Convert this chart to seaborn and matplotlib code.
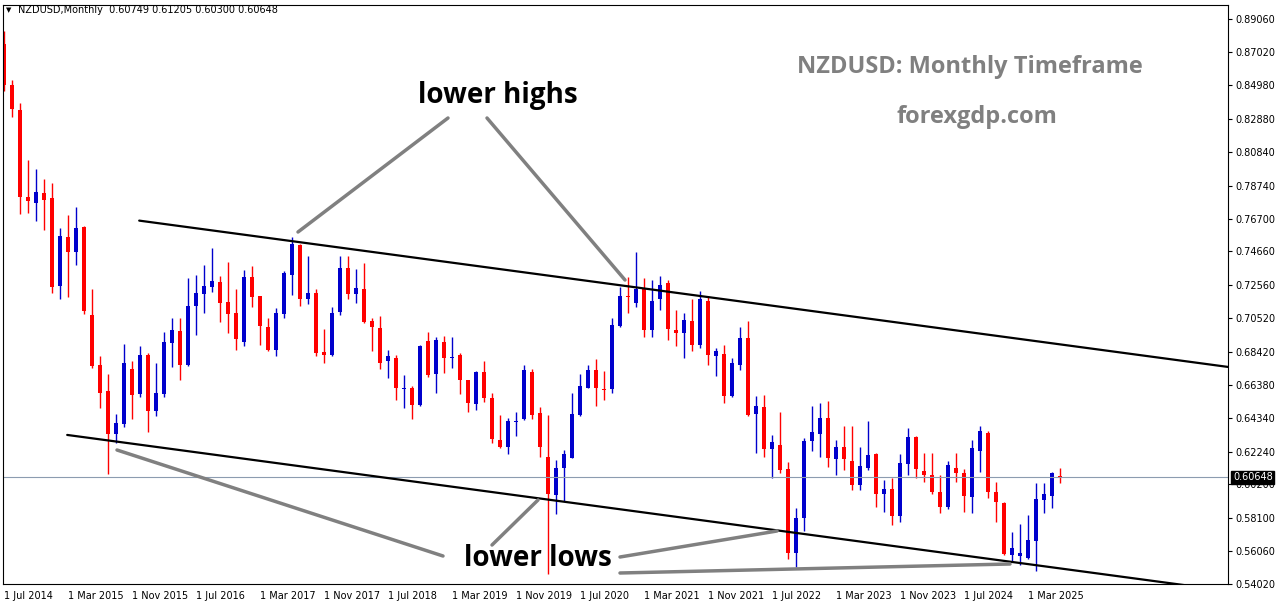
import numpy as np
import pandas as pd
import matplotlib
matplotlib.use("Agg")
import matplotlib.pyplot as plt
import seaborn as sns
from matplotlib.lines import Line2D

sns.set_style("white")
plt.rcParams['font.family'] = ['DejaVu Sans']
plt.rcParams['text.color'] = 'black'
plt.rcParams['xtick.color'] = 'black'
plt.rcParams['ytick.color'] = 'black'

# monthly candles, Jul 2014 .. Jul 2025
opens = [0.8756, 0.8501, 0.8344, 0.7804, 0.7766, 0.7828, 0.7799, 0.7250, 0.7556, 0.7464,
         0.7619, 0.7074, 0.6761, 0.6599, 0.6332, 0.6394, 0.6737, 0.6580, 0.6826, 0.6476,
         0.6580, 0.6900, 0.6973, 0.6761, 0.7127, 0.7202, 0.7243, 0.7274, 0.7149, 0.7081,
         0.6905, 0.7308, 0.7187, 0.6997, 0.6852, 0.7079, 0.7320, 0.7508, 0.7170, 0.7206,
         0.6840, 0.6826, 0.7093, 0.7363, 0.7202, 0.7231, 0.7031, 0.6990, 0.6785, 0.6804,
         0.6609, 0.6616, 0.6512, 0.6912, 0.6708, 0.6905, 0.6804, 0.6821, 0.6669, 0.6520,
         0.6717, 0.6556, 0.6295, 0.6255, 0.6409, 0.6423, 0.6717, 0.6464, 0.6189, 0.5953,
         0.6122, 0.6182, 0.6448, 0.6621, 0.6729, 0.6611, 0.6609, 0.7002, 0.7187, 0.7146,
         0.7231, 0.6977, 0.7170, 0.7267, 0.6977, 0.6958, 0.7035, 0.6888, 0.7158, 0.6814,
         0.6831, 0.6568, 0.6761, 0.6929, 0.6455, 0.6503, 0.6238, 0.6262, 0.6117, 0.5597,
         0.5809, 0.6291, 0.6332, 0.6431, 0.6177, 0.6250, 0.6165, 0.6014, 0.6122, 0.6206,
         0.5961, 0.5994, 0.5821, 0.6146, 0.6315, 0.6105, 0.6081, 0.5970, 0.5881, 0.6122,
         0.6091, 0.5941, 0.6226, 0.6339, 0.5970, 0.5905, 0.5580, 0.5575, 0.5563, 0.5669,
         0.5924, 0.5946, 0.60749]
highs = [0.8833, 0.8532, 0.8387, 0.8031, 0.7975, 0.7913, 0.7889, 0.7611, 0.7693, 0.7744,
         0.7623, 0.7231, 0.6814, 0.6705, 0.6455, 0.6893, 0.6785, 0.6881, 0.6833, 0.6773,
         0.6966, 0.7055, 0.7050, 0.7298, 0.7322, 0.7380, 0.7484, 0.7315, 0.7399, 0.7235,
         0.7351, 0.7375, 0.7190, 0.7050, 0.7115, 0.7346, 0.7556, 0.7513, 0.7436, 0.7231,
         0.6982, 0.7122, 0.7436, 0.7436, 0.7358, 0.7392, 0.7055, 0.7062, 0.6857, 0.6821,
         0.6700, 0.6633, 0.6888, 0.6966, 0.6934, 0.6941, 0.6934, 0.6833, 0.6669, 0.6724,
         0.6785, 0.6587, 0.6452, 0.6435, 0.6467, 0.6761, 0.6737, 0.6500, 0.6448, 0.6170,
         0.6235, 0.6587, 0.6708, 0.6761, 0.6797, 0.6724, 0.7050, 0.7243, 0.7310, 0.7460,
         0.7303, 0.7286, 0.7315, 0.7286, 0.7105, 0.7086, 0.7170, 0.7219, 0.7190, 0.6869,
         0.6888, 0.6804, 0.6997, 0.7031, 0.6568, 0.6573, 0.6327, 0.6467, 0.6158, 0.5874,
         0.6310, 0.6508, 0.6527, 0.6537, 0.6296, 0.6380, 0.6380, 0.6250, 0.6416, 0.6218,
         0.6045, 0.6057, 0.6206, 0.6368, 0.6322, 0.6218, 0.6218, 0.6081, 0.6165, 0.6218,
         0.6115, 0.6298, 0.6382, 0.6351, 0.6038, 0.5910, 0.5724, 0.5773, 0.5828, 0.6031,
         0.6031, 0.6098, 0.61205]
lows = [0.8460, 0.8303, 0.7701, 0.7705, 0.7652, 0.7599, 0.7207, 0.7170, 0.7182, 0.7380,
        0.7079, 0.6741, 0.6496, 0.6086, 0.6279, 0.6375, 0.6423, 0.6563, 0.6344, 0.6443,
        0.6563, 0.6749, 0.6669, 0.6756, 0.6946, 0.7081, 0.7214, 0.7026, 0.6961, 0.6857,
        0.6876, 0.7122, 0.6886, 0.6845, 0.6814, 0.7055, 0.7194, 0.7127, 0.7139, 0.6814,
        0.6773, 0.6814, 0.7069, 0.7170, 0.7146, 0.7021, 0.6845, 0.6737, 0.6681, 0.6544,
        0.6496, 0.6423, 0.6508, 0.6688, 0.6585, 0.6712, 0.6741, 0.6580, 0.6471, 0.6484,
        0.6532, 0.6279, 0.6243, 0.6206, 0.6322, 0.6418, 0.6423, 0.6187, 0.5465, 0.5838,
        0.5917, 0.6182, 0.6443, 0.6621, 0.6508, 0.6544, 0.6585, 0.6994, 0.7086, 0.7122,
        0.6937, 0.6937, 0.7105, 0.6917, 0.6876, 0.6802, 0.6850, 0.6869, 0.6761, 0.6693,
        0.6527, 0.6561, 0.6732, 0.6443, 0.6214, 0.6187, 0.6057, 0.6093, 0.5556, 0.5508,
        0.5732, 0.6226, 0.6187, 0.6127, 0.6079, 0.6110, 0.5985, 0.5985, 0.6110, 0.5881,
        0.5850, 0.5768, 0.5785, 0.6081, 0.6057, 0.6033, 0.5961, 0.5845, 0.5869, 0.6038,
        0.5850, 0.5845, 0.6098, 0.5934, 0.5785, 0.5580, 0.5536, 0.5519, 0.5556, 0.5484,
        0.5840, 0.5876, 0.60300]
closes = [0.8496, 0.8351, 0.7802, 0.7780, 0.7833, 0.7787, 0.7243, 0.7563, 0.7464, 0.7611,
          0.7098, 0.6756, 0.6587, 0.6332, 0.6399, 0.6773, 0.6575, 0.6821, 0.6476, 0.6587,
          0.6905, 0.6977, 0.6761, 0.7129, 0.7206, 0.7250, 0.7281, 0.7146, 0.7079, 0.6920,
          0.7308, 0.7182, 0.7002, 0.6852, 0.7081, 0.7329, 0.7513, 0.7170, 0.7206, 0.6838,
          0.6826, 0.7086, 0.7363, 0.7202, 0.7238, 0.7026, 0.6994, 0.6773, 0.6816, 0.6616,
          0.6616, 0.6512, 0.6881, 0.6700, 0.6917, 0.6804, 0.6809, 0.6669, 0.6527, 0.6717,
          0.6556, 0.6303, 0.6255, 0.6411, 0.6416, 0.6729, 0.6452, 0.6250, 0.5958, 0.6122,
          0.6206, 0.6455, 0.6628, 0.6729, 0.6616, 0.6606, 0.7009, 0.7187, 0.7180, 0.7231,
          0.6977, 0.7158, 0.7259, 0.6982, 0.6961, 0.7043, 0.6888, 0.7170, 0.6821, 0.6850,
          0.6568, 0.6773, 0.6929, 0.6448, 0.6508, 0.6238, 0.6286, 0.6110, 0.5597, 0.5809,
          0.6291, 0.6346, 0.6431, 0.6182, 0.6250, 0.6177, 0.6014, 0.6134, 0.6201, 0.5961,
          0.5994, 0.5821, 0.6153, 0.6315, 0.6115, 0.6081, 0.5970, 0.5881, 0.6141, 0.6091,
          0.5946, 0.6247, 0.6351, 0.5970, 0.5910, 0.5587, 0.5628, 0.5592, 0.5676, 0.5929,
          0.5961, 0.6091, 0.60648]

date_labels = ["1 Jul 2014", "1 Mar 2015", "1 Nov 2015", "1 Jul 2016", "1 Mar 2017",
               "1 Nov 2017", "1 Jul 2018", "1 Mar 2019", "1 Nov 2019", "1 Jul 2020",
               "1 Mar 2021", "1 Nov 2021", "1 Jul 2022", "1 Mar 2023", "1 Nov 2023",
               "1 Jul 2024", "1 Mar 2025"]
price_ticks = [0.89060, 0.87020, 0.84980, 0.82880, 0.80840, 0.78740, 0.76700, 0.74660,
               0.72560, 0.70520, 0.68420, 0.66380, 0.64340, 0.62240, 0.60200, 0.58100,
               0.56060, 0.54020]
last_price = 0.60648

# channel lines (month index, price)
upper_line = [(16.9, 0.7657), (153.0, 0.6749)]
lower_line = [(7.9, 0.6327), (149.5, 0.5382)]

df = pd.DataFrame({"open": opens, "high": highs, "low": lows, "close": closes})
df["idx"] = np.arange(len(df))
df["color"] = np.where(df["close"] > df["open"], "#0000cc", "#ff0000")

fig = plt.figure(figsize=(12.76, 6.04), dpi=100)
ax = fig.add_axes([3 / 1276, 20 / 604, 1225 / 1276, 579 / 604])

ax.vlines(df["idx"], df["low"], df["high"], colors=df["color"], lw=1)
body_h = (df["close"] - df["open"]).abs().clip(lower=0.0006)
ax.bar(df["idx"], body_h, bottom=df[["open", "close"]].min(axis=1),
       width=0.62, color=df["color"], linewidth=0)

ax.axhline(last_price, color="#8c9cb0", lw=0.8)
for ln in (upper_line, lower_line):
    ax.plot([ln[0][0], ln[1][0]], [ln[0][1], ln[1][1]], color="black", lw=1.6)

ax.set_xlim(-0.125, 153)
ax.set_ylim(0.5405, 0.8995)

ax.set_xticks(np.arange(0, 8 * len(date_labels), 8))
ax.set_xticklabels(date_labels, fontsize=7, ha="left")
ax.yaxis.tick_right()
ax.set_yticks(price_ticks)
ax.set_yticklabels([f"{v:.5f}" for v in price_ticks], fontsize=7)
ax.tick_params(axis="both", length=3, width=0.8, color="black", pad=2, direction="out")
for s in ax.spines.values():
    s.set_color("black")
    s.set_linewidth(0.8)

ax.text(1.004, last_price, f"{last_price:.5f}", transform=ax.get_yaxis_transform(),
        fontsize=7, color="white", va="center", ha="left",
        bbox=dict(boxstyle="square,pad=0.15", fc="black", ec="black"))

# header
fig.text(6 / 1276, 1 - 10 / 604, "▼", fontsize=5, va="center")
fig.text(18 / 1276, 1 - 10 / 604, "NZDUSD,Monthly  0.60749 0.61205 0.60300 0.60648",
         fontsize=7, va="center")

# annotations
fig.text(970 / 1276, 1 - 67 / 604, "NZDUSD: Monthly Timeframe", fontsize=17,
         fontweight="bold", color="#808080", ha="center", va="center", family="Open Sans")
fig.text(977 / 1276, 1 - 117 / 604, "forexgdp.com", fontsize=17,
         fontweight="bold", color="#808080", ha="center", va="center", family="Open Sans")
fig.text(498 / 1276, 1 - 96 / 604, "lower highs", fontsize=20, fontweight="bold",
         ha="center", va="center", family="Open Sans", color="black")
fig.text(538 / 1276, 1 - 558 / 604, "lower lows", fontsize=20, fontweight="bold",
         ha="center", va="center", family="Open Sans", color="black")

segs = [((448, 118), (298, 232)), ((487, 118), (625, 280)),
        ((443, 556), (117, 450)), ((492, 545), (538, 500)),
        ((620, 557), (777, 531)), ((620, 573), (1010, 564))]
for (x0, y0), (x1, y1) in segs:
    fig.add_artist(Line2D([x0 / 1276, x1 / 1276], [1 - y0 / 604, 1 - y1 / 604],
                          color="#808080", lw=2.5, transform=fig.transFigure))

fig.savefig("out.png", dpi=100)
